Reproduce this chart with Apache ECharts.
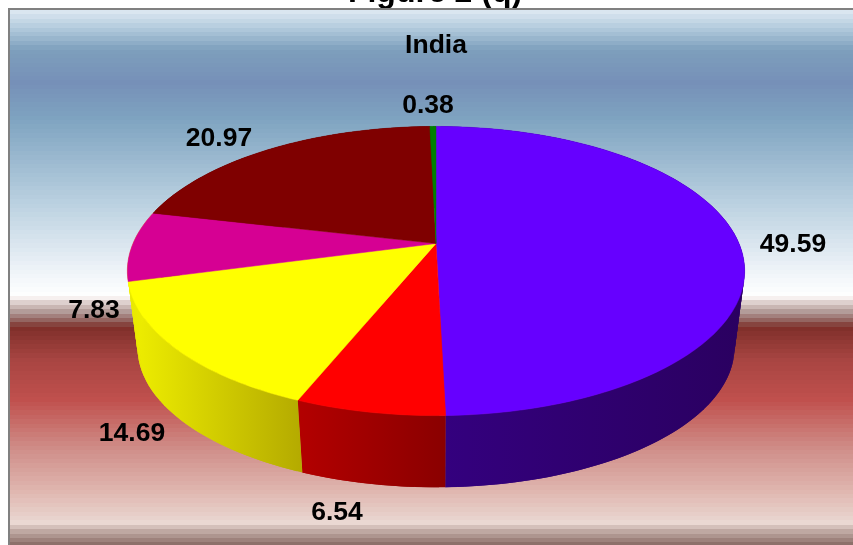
<!DOCTYPE html>
<html><head><meta charset="utf-8">
<style>html,body{margin:0;padding:0;background:#fff}#c{width:853px;height:545px}</style>
<script src="https://cdn.jsdelivr.net/npm/echarts@6/dist/echarts.min.js"></script>
</head><body><div id="c"></div>
<script>
const chartTitle = 'India';
const figureTitle = 'Figure 2 (q)';
const categories = ['A','B','C','D','E','F'];
const values = [49.59, 6.54, 14.69, 7.83, 20.97, 0.38];
const labels = ['49.59','6.54','14.69','7.83','20.97','0.38'];
const topColors = ['#6600ff','#ff0000','#ffff00','#d60093','#7f0000','#008000'];
const sideColors = [['#2a0060','#34007f'],['#b30000','#8a0000'],['#f0f000','#b4aa00'],['#e8e800','#f0f000'],['#550000','#550000'],['#005500','#005500']];

// layout: projection of the pie disc
const L = {cx:436, apexY:243.5, farK:-93, c:0.1903, d:303, midY:270.5, botY:347, k:0.967};
const labelPos = [[793,245],[337,513],[132,434],[94,311],[219,139],[428,106]];
const FONT = 'bold 26.5px "Liberation Sans", Arial, sans-serif';

const total = values.reduce((a,b)=>a+b,0);
const starts = []; { let s=0; values.forEach(v=>{starts.push(s); s+=v;}); }
const ang = f => f/total*2*Math.PI;
function topPt(t){
  const x=Math.sin(t), y=Math.cos(t), w=1+L.c*y;
  return [L.cx+L.d*x/w, (L.apexY+L.farK*y)/w];
}
function botPt(t){
  const p=topPt(t);
  return [L.cx+(p[0]-L.cx)*L.k, L.botY+(p[1]-L.midY)*L.k];
}
function arc(i,fn){
  const a=ang(starts[i]), b=ang(starts[i]+values[i]);
  const n=Math.max(2,Math.ceil((b-a)/(Math.PI/180)));
  const pts=[]; for(let j=0;j<=n;j++) pts.push(fn(a+(b-a)*j/n));
  return pts;
}
function renderSide(params){
  const i=params.dataIndex, tp=arc(i,topPt), bp=arc(i,botPt);
  const xs=tp.concat(bp).map(p=>p[0]);
  const fill={type:'linear',global:true,x:Math.min(...xs),y:0,x2:Math.max(...xs),y2:0,
    colorStops:[{offset:0,color:sideColors[i][1]},{offset:1,color:sideColors[i][0]}]};
  if(i!==0){fill.colorStops=[{offset:0,color:sideColors[i][0]},{offset:1,color:sideColors[i][1]}];}
  const children=[];
  for(let j=0;j<tp.length-1;j++){
    const e=Math.min(j+2,tp.length-1);
    children.push({type:'polygon',shape:{points:[tp[j],tp[e],bp[e],bp[j]]},style:{fill:fill}});
  }
  return {type:'group',children};
}
function renderTop(params){
  const i=params.dataIndex;
  const pts=[[L.cx,L.apexY]].concat(arc(i,topPt));
  return {type:'polygon',shape:{points:pts},style:{fill:topColors[i],stroke:topColors[i],lineWidth:0.5}};
}
function renderLabel(params){
  const i=params.dataIndex;
  return {type:'text',x:labelPos[i][0],y:labelPos[i][1],
    style:{text:labels[i],fill:'#000',font:FONT,textAlign:'center',textVerticalAlign:'middle'}};
}
const bg=[[10,'#dfeaf3'],[30,'#aec7da'],[50,'#7d9fbc'],[83,'#7690b8'],[120,'#7fa4c1'],[200,'#b8cfdf'],[270,'#eef3f8'],[297,'#ffffff'],
 [299,'#f0e6e4'],[312,'#b09895'],[322,'#8e5a56'],[327,'#7f2f2a'],[360,'#a84542'],[400,'#c0504d'],[450,'#d08f8a'],[490,'#dfb5ae'],[523,'#ead8d2'],[530,'#c4aea8'],[545,'#8c6e68']];
const top0=10, bot0=545, band=4.4;
const stops=[];
function colorAt(y){
  for(let i=0;i<bg.length-1;i++){
    if(y<=bg[i+1][0]){
      const t=(y-bg[i][0])/(bg[i+1][0]-bg[i][0]);
      return echarts.color.lerp(Math.max(0,t),[bg[i][1],bg[i+1][1]]);
    }
  }
  return bg[bg.length-1][1];
}
for(let y=top0;y<bot0;y+=band){
  const c=colorAt(y+band/2), o=v=>Math.min(1,(v-top0)/(bot0-top0));
  stops.push({offset:o(y),color:c},{offset:o(y+band),color:c});
}
const chart=echarts.init(document.getElementById('c'),null,{renderer:'canvas'});
const data=categories.map((c,i)=>[values[i]]);
chart.setOption({
  animation:false,
  backgroundColor:'#fff',
  graphic:[
    {type:'text',z:0,x:435,y:-7,style:{text:figureTitle,fill:'#000',font:'bold 32px "Liberation Sans", Arial, sans-serif',textAlign:'center',textVerticalAlign:'middle'}},
    {type:'rect',z:1,shape:{x:9,y:9,width:900,height:600},
      style:{fill:{type:'linear',global:true,x:0,y:top0,x2:0,y2:bot0,colorStops:stops},stroke:'#808080',lineWidth:2}},
    {type:'text',z:5,x:436,y:46,style:{text:chartTitle,fill:'#000',font:FONT,textAlign:'center',textVerticalAlign:'middle'}}
  ],
  series:[
    {type:'custom',coordinateSystem:'none',renderItem:renderSide,data,silent:true,z:2},
    {type:'custom',coordinateSystem:'none',renderItem:renderTop,data,silent:true,z:3},
    {type:'custom',coordinateSystem:'none',renderItem:renderLabel,data,silent:true,z:4}
  ]
});
</script></body></html>
